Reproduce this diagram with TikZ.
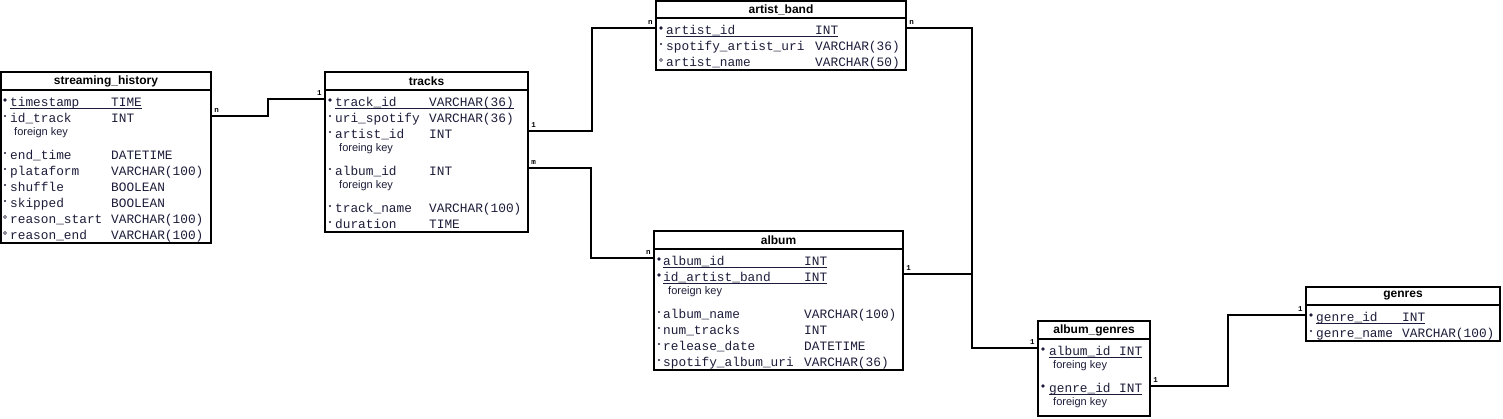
\documentclass[tikz,border=0pt]{standalone}
\usepackage{fontspec}
\setmainfont{Liberation Sans}
\setsansfont{Liberation Sans}
\setmonofont{Liberation Mono}
\usetikzlibrary{calc}
\definecolor{ink}{RGB}{28,28,58}
\tikzset{tbl/.style = {draw, line width=1.8pt, outer sep=0pt, inner sep=0pt, anchor=north west}}
\tikzset{hdr/.style = {font=\sffamily\bfseries\fontsize{12}{12}\selectfont, inner sep=0pt}}
\tikzset{fld/.style = {font=\ttfamily\fontsize{12.8}{13}\selectfont, text=ink, anchor=base west, inner sep=0pt}}
\tikzset{fknote/.style = {font=\sffamily\fontsize{11}{11}\selectfont, text=ink, anchor=base west, inner sep=0pt}}
\tikzset{card/.style = {font=\ttfamily\bfseries\fontsize{7.5}{7.5}\selectfont, inner sep=2.5pt}}
\tikzset{rel/.style = {line width=1.8pt}}
\tikzset{keyline/.style = {draw=ink, line width=0.8pt}}
\tikzset{pkdot/.style = {circle, fill=ink, inner sep=0pt, minimum size=3.6pt}}
\tikzset{reqdot/.style = {circle, fill=ink, inner sep=0pt, minimum size=2.2pt}}
\tikzset{optdot/.style = {circle, draw=ink, line width=0.6pt, inner sep=0pt, minimum size=3pt}}

\begin{document}
\begin{tikzpicture}[x=1pt, y=-1pt]
    \useasboundingbox (0,0) rectangle (1503,418);

    % streaming_history
    \node[tbl, minimum width=210pt, minimum height=171pt] (sh) at (1,72) {};
    \node[hdr] (sh-h) at ([yshift=-9pt]sh.north) {streaming\_history};
    \draw[rel] ([yshift=-18pt]sh.north west) -- ([yshift=-18pt]sh.north east);
    \foreach \kd/\fn/\ty/\yy [count=\i] in {pkdot/timestamp/TIME/106, reqdot/id\_track/INT/122,
        reqdot/end\_time/DATETIME/159, reqdot/plataform/VARCHAR(100)/175, reqdot/shuffle/BOOLEAN/191,
        reqdot/skipped/BOOLEAN/207, optdot/reason\_start/VARCHAR(100)/223, optdot/reason\_end/VARCHAR(100)/239} {
        \node[\kd] (sh-d\i) at (5,\yy-6) {};
        \node[fld] (sh-n\i) at (10,\yy) {\fn};
        \node[fld] (sh-t\i) at (111,\yy) {\ty};
    }
    \draw[keyline] ([yshift=-2pt]sh-n1.base west) -- ([yshift=-2pt]sh-t1.base east);
    \node[fknote] (sh-f1) at (14,135.5) {foreign key};

    % tracks
    \node[tbl, minimum width=203pt, minimum height=160pt] (tr) at (325,72) {};
    \node[hdr] (tr-h) at ([yshift=-9pt]tr.north) {tracks};
    \draw[rel] ([yshift=-18pt]tr.north west) -- ([yshift=-18pt]tr.north east);
    \foreach \kd/\fn/\ty/\yy [count=\i] in {pkdot/track\_id/VARCHAR(36)/106, reqdot/uri\_spotify/VARCHAR(36)/122,
        reqdot/artist\_id/INT/138, reqdot/album\_id/INT/175, reqdot/track\_name/VARCHAR(100)/212,
        reqdot/duration/TIME/228} {
        \node[\kd] (tr-d\i) at (330,\yy-6) {};
        \node[fld] (tr-n\i) at (335,\yy) {\fn};
        \node[fld] (tr-t\i) at (429,\yy) {\ty};
    }
    \draw[keyline] ([yshift=-2pt]tr-n1.base west) -- ([yshift=-2pt]tr-t1.base east);
    \node[fknote] (tr-f1) at (339,151) {foreing key};
    \node[fknote] (tr-f2) at (339,188) {foreign key};

    % artist_band
    \node[tbl, minimum width=250pt, minimum height=69pt] (ar) at (656,1) {};
    \node[hdr] (ar-h) at ([yshift=-8.5pt]ar.north) {artist\_band};
    \draw[rel] ([yshift=-17pt]ar.north west) -- ([yshift=-17pt]ar.north east);
    \foreach \kd/\fn/\ty/\yy [count=\i] in {pkdot/artist\_id/INT/34, reqdot/spotify\_artist\_uri/VARCHAR(36)/50,
        optdot/artist\_name/VARCHAR(50)/66} {
        \node[\kd] (ar-d\i) at (661,\yy-6) {};
        \node[fld] (ar-n\i) at (666,\yy) {\fn};
        \node[fld] (ar-t\i) at (815,\yy) {\ty};
    }
    \draw[keyline] ([yshift=-2pt]ar-n1.base west) -- ([yshift=-2pt]ar-t1.base east);

    % album
    \node[tbl, minimum width=249pt, minimum height=139pt] (al) at (654,231) {};
    \node[hdr] (al-h) at ([yshift=-9pt]al.north) {album};
    \draw[rel] ([yshift=-18pt]al.north west) -- ([yshift=-18pt]al.north east);
    \foreach \kd/\fn/\ty/\yy [count=\i] in {pkdot/album\_id/INT/265, pkdot/id\_artist\_band/INT/281,
        reqdot/album\_name/VARCHAR(100)/318, reqdot/num\_tracks/INT/334, reqdot/release\_date/DATETIME/350,
        reqdot/spotify\_album\_uri/VARCHAR(36)/366} {
        \node[\kd] (al-d\i) at (659,\yy-6) {};
        \node[fld] (al-n\i) at (663,\yy) {\fn};
        \node[fld] (al-t\i) at (804,\yy) {\ty};
    }
    \draw[keyline] ([yshift=-2pt]al-n1.base west) -- ([yshift=-2pt]al-t1.base east);
    \draw[keyline] ([yshift=-2pt]al-n2.base west) -- ([yshift=-2pt]al-t2.base east);
    \node[fknote] (al-f1) at (668,294) {foreign key};

    % album_genres
    \node[tbl, minimum width=112pt, minimum height=95pt] (ag) at (1038,321) {};
    \node[hdr] (ag-h) at ([yshift=-9pt]ag.north) {album\_genres};
    \draw[rel] ([yshift=-18pt]ag.north west) -- ([yshift=-18pt]ag.north east);
    \foreach \kd/\fn/\ty/\yy [count=\i] in {pkdot/album\_id/INT/355, pkdot/genre\_id/INT/392} {
        \node[\kd] (ag-d\i) at (1043,\yy-6) {};
        \node[fld] (ag-n\i) at (1049,\yy) {\fn};
        \node[fld] (ag-t\i) at (1119,\yy) {\ty};
        \draw[keyline] ([yshift=-2pt]ag-n\i.base west) -- ([yshift=-2pt]ag-t\i.base east);
    }
    \node[fknote] (ag-f1) at (1053,368) {foreing key};
    \node[fknote] (ag-f2) at (1053,405) {foreign key};

    % genres
    \node[tbl, minimum width=194pt, minimum height=54pt] (ge) at (1306,287) {};
    \node[hdr] (ge-h) at ([yshift=-9pt]ge.north) {genres};
    \draw[rel] ([yshift=-18pt]ge.north west) -- ([yshift=-18pt]ge.north east);
    \foreach \kd/\fn/\ty/\yy [count=\i] in {pkdot/genre\_id/INT/321, reqdot/genre\_name/VARCHAR(100)/337} {
        \node[\kd] (ge-d\i) at (1311,\yy-6) {};
        \node[fld] (ge-n\i) at (1316,\yy) {\fn};
        \node[fld] (ge-t\i) at (1402,\yy) {\ty};
    }
    \draw[keyline] ([yshift=-2pt]ge-n1.base west) -- ([yshift=-2pt]ge-t1.base east);

    % relations
    \coordinate (sh-r) at ([yshift=-44pt]sh.north east);
    \coordinate (tr-l) at ([yshift=-27pt]tr.north west);
    \coordinate (tr-r1) at ([yshift=-59pt]tr.north east);
    \coordinate (tr-r2) at ([yshift=-96pt]tr.north east);
    \coordinate (ar-l) at ([yshift=-27pt]ar.north west);
    \coordinate (ar-r) at ([yshift=-27pt]ar.north east);
    \coordinate (al-l) at ([yshift=-27pt]al.north west);
    \coordinate (al-r) at ([yshift=-43pt]al.north east);
    \coordinate (ag-l) at ([yshift=-27pt]ag.north west);
    \coordinate (ag-r) at ([yshift=-65pt]ag.north east);
    \coordinate (ge-l) at ([yshift=-28pt]ge.north west);
    \coordinate (ar-bend) at ($(ar-r)!.5!(ag-l)$);

    \draw[rel] (sh-r) node[card, anchor=south west] {n} -| ($(sh-r)!.5!(tr-l)$) |- (tr-l) node[card, anchor=south east] {1};
    \draw[rel] (tr-r1) node[card, anchor=south west] {1} -| ($(tr-r1)!.5!(ar-l)$) |- (ar-l) node[card, anchor=south east] {n};
    \draw[rel] (tr-r2) node[card, anchor=south west] {m} -| ($(tr-r2)!.5!(al-l)$) |- (al-l) node[card, anchor=south east] {n};
    \draw[rel] (ar-r) node[card, anchor=south west] {n} -| (ar-bend) |- (ag-l) node[card, anchor=south east] {1};
    \draw[rel] (al-r) node[card, anchor=south west] {1} -- (al-r -| ar-bend);
    \draw[rel] (ag-r) node[card, anchor=south west] {1} -| ($(ag-r)!.5!(ge-l)$) |- (ge-l) node[card, anchor=south east] {1};
\end{tikzpicture}
\end{document}
